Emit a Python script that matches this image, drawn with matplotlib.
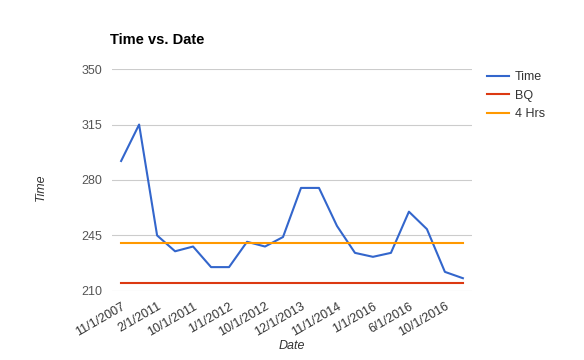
import matplotlib.pyplot as plt
import numpy as np

plt.rcParams['font.family'] = ['Liberation Sans', 'DejaVu Sans']

# Valeurs (20 relevés)
time_values = [292, 315, 245, 235, 238, 225, 225, 241, 238, 244,
               275, 275, 251, 234, 231.5, 234, 260, 249, 222, 218]
bq_value = 215
four_hrs = 240
date_labels = ["11/1/2007", "2/1/2011", "10/1/2011", "1/1/2012", "10/1/2012",
               "12/1/2013", "11/1/2014", "1/1/2016", "6/1/2016", "10/1/2016"]
y_ticks = [210, 245, 280, 315, 350]

x = np.arange(len(time_values))

fig = plt.figure(figsize=(5.84, 3.6), dpi=100)
ax = fig.add_axes([0.192, 0.192, 0.616, 0.616])

ax.plot(x, time_values, color='#3366cc', linewidth=1.5, label="Time")
ax.plot(x, [bq_value] * len(x), color='#dc3912', linewidth=1.5, label="BQ")
ax.plot(x, [four_hrs] * len(x), color='#ff9900', linewidth=1.5, label="4 Hrs")

ax.set_xlim(-0.5, len(x) - 0.5)
ax.set_ylim(210, 350)
ax.set_yticks(y_ticks)
ax.set_yticklabels([str(v) for v in y_ticks], color='#555555', fontsize=9)
ax.set_xticks(x[::2])
ax.set_xticklabels(date_labels, rotation=30, ha='right', rotation_mode='anchor',
                   color='#333333', fontsize=9)
ax.tick_params(length=0, pad=7)
ax.grid(axis='y', color='#cccccc', linewidth=0.8)
ax.set_axisbelow(True)
for s in ax.spines.values():
    s.set_visible(False)

fig.text(0.188, 0.877, "Time vs. Date", fontsize=10.5, fontweight='bold', ha='left')
fig.text(0.07, 0.48, "Time", fontsize=9, style='italic', rotation=90,
         ha='center', va='center', color='#333333')
fig.text(0.5, 0.038, "Date", fontsize=9, style='italic', ha='center',
         va='center', color='#333333')

leg = ax.legend(loc='upper left', bbox_to_anchor=(1.01, 1.04), frameon=False,
                fontsize=9, handlelength=1.8, handletextpad=0.45, labelspacing=0.5)
for t in leg.get_texts():
    t.set_color('#333333')

fig.savefig("out.png", dpi=100)
